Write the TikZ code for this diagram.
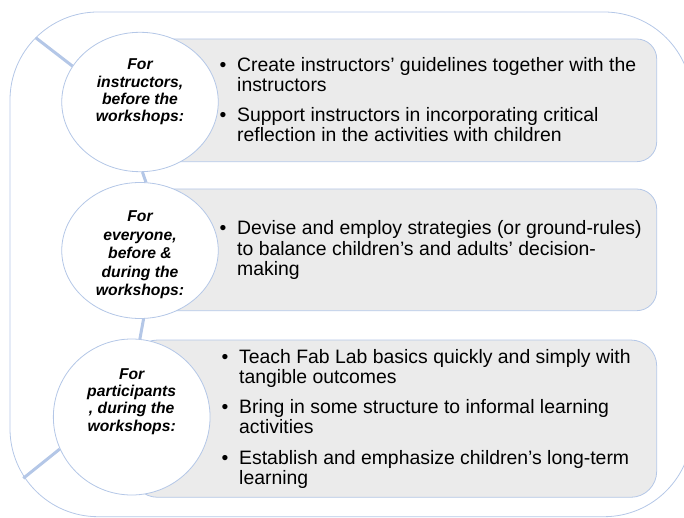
\documentclass[tikz,border=0pt]{standalone}
\usepackage{fontspec}
\setmainfont{Liberation Sans}
\usepackage{tikz}
\usetikzlibrary{shapes.geometric}

\definecolor{lineblue}{RGB}{180,199,231}
\definecolor{cardgray}{RGB}{235,235,235}

\begin{document}
\begin{tikzpicture}[
  x=1pt, y=-1pt,
  card/.style={draw=lineblue, line width=0.8pt, fill=cardgray, inner sep=0pt, minimum width=516.7pt},
  disc/.style={ellipse, draw=lineblue, line width=0.8pt, fill=white, inner sep=0pt, minimum width=156.5pt},
  head/.style={anchor=base, inner sep=0pt, font=\fontsize{15.7}{17.3}\selectfont\bfseries\itshape},
  body/.style={anchor=base west, inner sep=0pt, font=\fontsize{19.4}{20}\selectfont},
  spoke/.style={draw=lineblue, line width=3pt},
]
\useasboundingbox (0,0) rectangle (684,518);

% outer frame, right side runs off the page
\draw[lineblue, line width=0.8pt, rounded corners=88pt] (10,12) rectangle (692,516.7);
\coordinate (f1) at (35.8,37.8);
\coordinate (f2) at (23.3,478.3);

% grey cards, left ends sit under the circles
\node[card, minimum height=122.7pt, rounded corners=20pt] (b1) at (398.35,100.35) {};
\node[card, minimum height=121.7pt, rounded corners=20pt] (b2) at (398.35,249.85) {};
\node[card, minimum width=525pt, minimum height=157.3pt, rounded corners=26pt] (b3) at (394.2,418.65) {};

\node[disc, minimum height=139.4pt] (c1) at (140,102) {};
\node[disc, minimum height=136pt] (c2) at (140,250.5) {};
\node[disc, minimum width=156.7pt, minimum height=156pt] (c3) at (131.7,417) {};

\draw[spoke] (f1) -- (c1.152.5);
\draw[spoke] (f2) -- (c3.204.7);
\draw[spoke] (c1.-88.4) -- (c2.85.8);
\draw[spoke] (c2.-87.3) -- (c3.84.6);

% circle headings
\node[head] (h1) at (140,70) {\begin{tabular}[t]{@{}c@{}}For\\instructors,\\before the\\workshops:\end{tabular}};
\node[head, font=\fontsize{15.7}{18.5}\selectfont\bfseries\itshape] (h2) at (140,221.7)
  {\begin{tabular}[t]{@{}c@{}}For\\everyone,\\before \&\\during the\\workshops:\end{tabular}};
\node[head] (h3) at (131.7,379.3) {\begin{tabular}[t]{@{}c@{}}For\\participants\\, during the\\workshops:\end{tabular}};

% bullet lists
\node[body] (t1) at (219.5,71.7) {\begin{tabular}[t]{@{}p{17.5pt}@{}l@{}}
  \textbullet & Create instructors’ guidelines together with the\\
              & instructors\\[10pt]
  \textbullet & Support instructors in incorporating critical\\
              & reflection in the activities with children
\end{tabular}};
\node[body] (t2) at (219.5,235) {\begin{tabular}[t]{@{}p{17.5pt}@{}l@{}}
  \textbullet & Devise and employ strategies (or ground-rules)\\
              & to balance children’s and adults’ decision-\\
              & making
\end{tabular}};
\node[body] (t3) at (221.5,363.3) {\begin{tabular}[t]{@{}p{17.5pt}@{}l@{}}
  \textbullet & Teach Fab Lab basics quickly and simply with\\
              & tangible outcomes\\[10.5pt]
  \textbullet & Bring in some structure to informal learning\\
              & activities\\[10.5pt]
  \textbullet & Establish and emphasize children’s long-term\\
              & learning
\end{tabular}};
\end{tikzpicture}
\end{document}
